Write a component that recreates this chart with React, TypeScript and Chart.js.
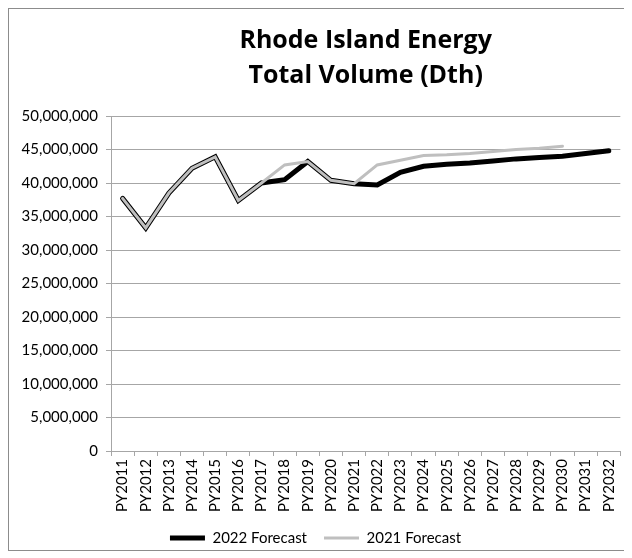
import React, { useEffect, useRef } from "react";
import { Chart, registerables } from "chart.js";

Chart.register(...registerables);

const categories = [
  "PY2011", "PY2012", "PY2013", "PY2014", "PY2015", "PY2016", "PY2017", "PY2018",
  "PY2019", "PY2020", "PY2021", "PY2022", "PY2023", "PY2024", "PY2025", "PY2026",
  "PY2027", "PY2028", "PY2029", "PY2030", "PY2031", "PY2032",
];

const forecast2022 = [
  37700000, 33300000, 38500000, 42200000, 43900000, 37400000, 40000000, 40500000,
  43200000, 40400000, 39900000, 39700000, 41600000, 42500000, 42800000, 43000000,
  43300000, 43600000, 43800000, 44000000, 44400000, 44800000,
];

const forecast2021 = [
  37700000, 33300000, 38500000, 42200000, 43900000, 37400000, 40000000, 42700000,
  43200000, 40400000, 39900000, 42700000, 43400000, 44100000, 44200000, 44400000,
  44700000, 45000000, 45200000, 45500000, null, null,
];

const titleLines = ["Rhode Island Energy", "Total Volume (Dth)"];
const seriesNames = ["2022 Forecast", "2021 Forecast"];
const yMin = 0;
const yMax = 50000000;
const yStep = 5000000;

const FONT = "Lato, 'Open Sans', sans-serif";
const TITLE_FONT = "'Open Sans', Lato, sans-serif";
const GRID = "#a6a6a6";

export default function App() {
  const ref = useRef<HTMLCanvasElement | null>(null);

  useEffect(() => {
    if (!ref.current) return;
    const chart = new Chart(ref.current, {
      type: "line",
      data: {
        labels: categories,
        datasets: [
          {
            label: seriesNames[0],
            data: forecast2022,
            borderColor: "#000000",
            backgroundColor: "#000000",
            borderWidth: 5,
            pointRadius: 0,
            tension: 0,
            borderCapStyle: "round",
            order: 1,
          },
          {
            label: seriesNames[1],
            data: forecast2021,
            borderColor: "#bfbfbf",
            backgroundColor: "#bfbfbf",
            borderWidth: 3,
            pointRadius: 0,
            tension: 0,
            borderCapStyle: "round",
            order: 0,
          },
        ],
      },
      options: {
        responsive: false,
        animation: false,
        layout: { padding: { left: 0, right: 8, top: 0, bottom: 2.5 } },
        plugins: {
          tooltip: { enabled: false },
          title: {
            display: true,
            text: titleLines,
            fullSize: false,
            color: "#000000",
            font: { family: TITLE_FONT, size: 25, weight: "bold", lineHeight: 35 / 25 },
            padding: { top: 14.5, bottom: 22.5 },
          },
          legend: {
            position: "bottom",
            labels: {
              usePointStyle: true,
              pointStyle: "line",
              pointStyleWidth: 35,
              boxHeight: 15,
              padding: 17,
              color: "#000000",
              font: { family: FONT, size: 15 },
              sort: (a: any, b: any) => a.datasetIndex - b.datasetIndex,
            },
          },
        },
        scales: {
          x: {
            offset: true,
            grid: {
              offset: true,
              drawOnChartArea: false,
              color: GRID,
              tickLength: 5,
            },
            border: { color: GRID },
            ticks: {
              minRotation: 90,
              maxRotation: 90,
              autoSkip: false,
              color: "#000000",
              padding: 3,
              font: { family: FONT, size: 15 },
            },
            afterFit: (s: any) => {
              s.height = 62.5;
            },
          },
          y: {
            min: yMin,
            max: yMax,
            grid: { color: GRID, tickLength: 5 },
            border: { color: GRID },
            ticks: {
              stepSize: yStep,
              color: "#000000",
              padding: 8,
              font: { family: FONT, size: 15 },
              callback: (v: any) => Number(v).toLocaleString("en-US"),
            },
            afterFit: (s: any) => {
              s.width = 102;
            },
          },
        },
      },
    });
    return () => chart.destroy();
  }, []);

  return (
    <div
      style={{
        position: "relative",
        width: 623,
        height: 543,
        border: "1px solid #8c8c8c",
        boxSizing: "border-box",
        background: "#ffffff",
      }}
    >
      <canvas
        ref={ref}
        width={621}
        height={549}
        style={{ position: "absolute", left: 0, top: 0, width: 621, height: 549 }}
      />
    </div>
  );
}
